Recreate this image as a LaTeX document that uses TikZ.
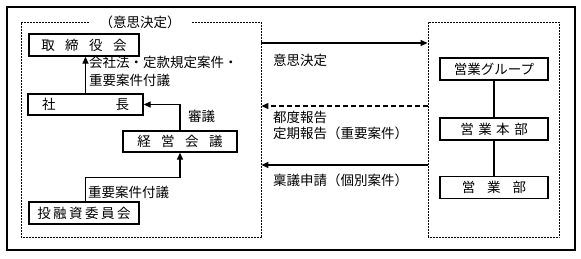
\documentclass[tikz,border=0pt]{standalone}
\usepackage{fontspec}
\setmainfont{Noto Sans CJK JP}
\usetikzlibrary{arrows.meta}
\newcommand\gapx[1]{\hspace{#1pt}}
\begin{document}
\begin{tikzpicture}[x=1pt,y=-1pt,
  font=\fontsize{13.5}{16}\selectfont,
  box/.style={draw,line width=1.3pt,rectangle,inner sep=0pt,fill=white},
  dotbox/.style={draw,line width=0.9pt,dash pattern=on 0.8pt off 0.7pt,rectangle,inner sep=0pt},
  arr/.style={line width=1.3pt,-{Triangle[length=7pt,width=6pt]}},
  lbl/.style={anchor=west,inner sep=0pt,align=left}]
\useasboundingbox (0,0) rectangle (581,258);
% frames
\node[draw,line width=1.6pt,minimum width=568pt,minimum height=243pt,inner sep=0pt] (frame) at (291,128.5) {};
\node[dotbox,minimum width=240pt,minimum height=215pt] (left) at (141,129.5) {};
\node[dotbox,minimum width=131pt,minimum height=215pt] (right) at (493.5,129.5) {};
\node[fill=white,inner xsep=10pt,inner ysep=1pt] (title) at (140,22) {（意思決定）};
% left boxes
\node[box,minimum width=110pt,minimum height=22pt] (tori) at (84,45) {取\gapx{10.5}締\gapx{10.5}役\gapx{10.5}会};
\node[box,minimum width=115pt,minimum height=21pt] (shacho) at (85.5,104.5) {社\gapx{60}長};
\node[box,minimum width=114pt,minimum height=21pt] (keiei) at (180,141.5) {経\gapx{10.5}営\gapx{10.5}会\gapx{10.5}議};
\node[box,minimum width=110pt,minimum height=22pt] (toyu) at (84,213) {投\gapx{2.5}融\gapx{2.5}資\gapx{2.5}委\gapx{2.5}員\gapx{2.5}会};
% right boxes
\node[box,minimum width=108pt,minimum height=22pt] (group) at (494,69) {営業グループ};
\node[box,minimum width=108pt,minimum height=22pt] (honbu) at (494,129) {営\gapx{4.5}業\gapx{4.5}本\gapx{4.5}部};
\node[box,minimum width=108pt,minimum height=22pt] (bu) at (494,187.5) {営\gapx{12}業\gapx{12}部};
% connectors left
\draw[arr] (shacho.north) -- (shacho.north |- tori.south);
\draw[arr] (keiei.north) |- (shacho.east);
\draw[arr] (toyu.north -| shacho.north) -- ++(0,-24) -| (keiei.south);
% right connectors
\draw[line width=1.3pt] (group.south) -- (honbu.north);
\draw[line width=1.3pt] (honbu.south) -- (bu.north);
% between groups
\draw[arr] (left.east |- 0,43) -- (right.west |- 0,43);
\draw[arr,dash pattern=on 5pt off 3pt] (right.west |- 0,106) -- (left.east |- 0,106);
\draw[arr] (right.west |- 0,165) -- (left.east |- 0,165);
% labels
\node[lbl] (l1) at (89,62) {会社法・定款規定案件・};
\node[lbl] (l2) at (89,80) {重要案件付議};
\node[lbl] (l3) at (188,116) {審議};
\node[lbl] (l4) at (88,192) {重要案件付議};
\node[lbl] (r1) at (273,60) {意思決定};
\node[lbl] (r2) at (273,117) {都度報告};
\node[lbl] (r3) at (273,133) {定期報告（重要案件）};
\node[lbl] (r4) at (273,180) {稟議申請（個別案件）};
\end{tikzpicture}
\end{document}
